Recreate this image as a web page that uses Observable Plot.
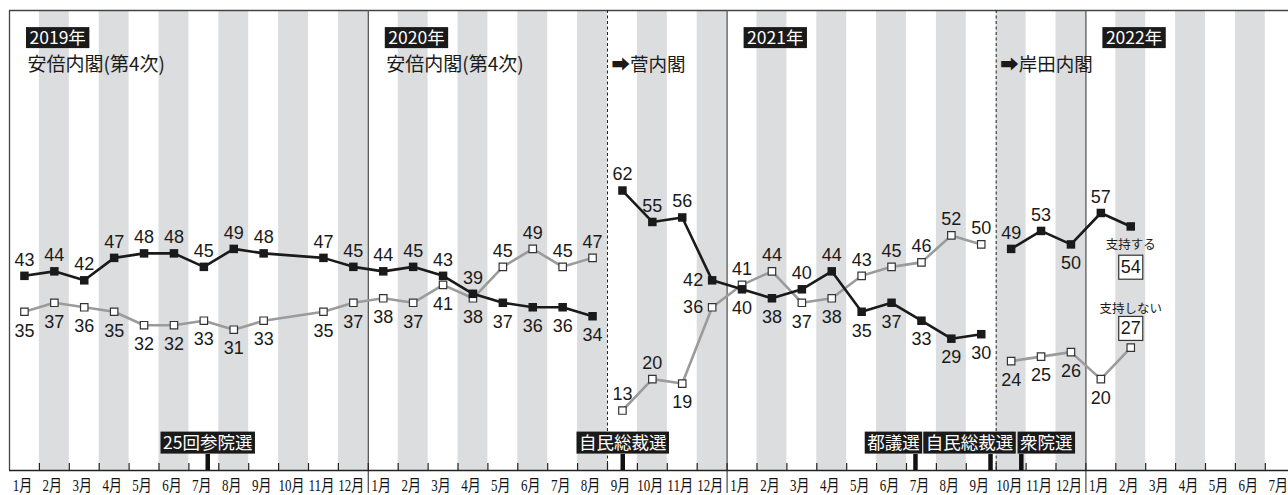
<!DOCTYPE html>
<html>
<head>
<meta charset="utf-8">
<script src="https://cdn.jsdelivr.net/npm/d3@7"></script>
<script src="https://cdn.jsdelivr.net/npm/@observablehq/plot@0.6"></script>
<style>
  html, body { margin: 0; padding: 0; overflow: hidden; background: #fff; }
</style>
</head>
<body>
<div id="chart"></div>
<script>
// ---------------- data ----------------
const surveyMonths = [
  "2019-01","2019-02","2019-03","2019-04","2019-05","2019-06","2019-07","2019-08","2019-09","2019-11","2019-12",
  "2020-01","2020-02","2020-03","2020-04","2020-05","2020-06","2020-07","2020-08",
  "2020-09","2020-10","2020-11","2020-12",
  "2021-01","2021-02","2021-03","2021-04","2021-05","2021-06","2021-07","2021-08","2021-09",
  "2021-10","2021-11","2021-12","2022-01","2022-02"
];
const supportValues = [
  43,44,42,47,48,48,45,49,48,47,45,
  44,45,43,39,37,36,36,34,
  62,55,56,42,
  40,38,40,44,35,37,33,29,30,
  49,53,50,57,54
];
const nonSupportValues = [
  35,37,36,35,32,32,33,31,33,35,37,
  38,37,41,38,45,49,45,47,
  13,20,19,36,
  41,44,37,38,43,45,46,52,50,
  24,25,26,20,27
];
const cabinetOfSurvey = [
  "安倍","安倍","安倍","安倍","安倍","安倍","安倍","安倍","安倍","安倍","安倍",
  "安倍","安倍","安倍","安倍","安倍","安倍","安倍","安倍",
  "菅","菅","菅","菅",
  "菅","菅","菅","菅","菅","菅","菅","菅","菅",
  "岸田","岸田","岸田","岸田","岸田"
];
// label placement (a = above, b = below, l = left, n = none)
const supportLabelSide = [
  "a","a","a","a","a","a","a","a","a","a","a",
  "a","a","a","a","b","b","b","b",
  "a","a","a","l",
  "b","b","a","a","b","b","b","b","b",
  "a","a","b","a","n"
];
const nonSupportLabelSide = [
  "b","b","b","b","b","b","b","b","b","b","b",
  "b","b","b","b","a","a","a","a",
  "a","a","b","l",
  "a","a","b","b","a","a","a","a","a",
  "b","b","b","b","n"
];

const yearLabels = ["2019年","2020年","2021年","2022年"];
const yearStartMonths = [0, 12, 24, 36];
const abeLabels = ["安倍内閣(第4次)","安倍内閣(第4次)"];
const abeLabelMonths = [0, 12];
const changeLabels = ["➡菅内閣","➡岸田内閣"];
const cabinetChangeMonths = [20, 33];

const eventLabels = ["25回参院選","自民総裁選","都議選","自民総裁選","衆院選"];
const eventMonths = [6.63, 20.51, 30.30, 32.81, 33.84];
const eventLabelShiftPx = [0, 0, -22, -21, 25];

const monthCount = 43;
const monthTickLabels = d3.range(monthCount).map(i => `${i % 12 + 1}月`);
const endLabelTexts = ["支持する", "支持しない"];

// ---------------- layout ----------------
const MONTH_PX = 29.9, LEFT = 9;
const yDomain = [-0.36, 102.1];
const numFont = "'Liberation Sans', Arial, Helvetica, sans-serif";
const jpFont = "'Noto Sans CJK JP', 'DejaVu Sans', sans-serif";
const serifFont = "'Liberation Serif', 'Noto Sans CJK JP', serif";

const monthIndex = s => { const [y, m] = s.split("-").map(Number); return (y - 2019) * 12 + (m - 1); };
const rows = surveyMonths.map((m, i) => ({
  t: monthIndex(m) + 0.5,
  s: supportValues[i],
  n: nonSupportValues[i],
  cab: cabinetOfSurvey[i],
  ps: supportLabelSide[i],
  pn: nonSupportLabelSide[i]
}));
const lastRow = rows[rows.length - 1];
const stripeMonths = d3.range(monthCount).filter(i => i % 2 === 1);

function valueLabels(key, sideKey) {
  const base = {x: "t", y: key, text: d => String(d[key]), fontSize: 18, fontFamily: numFont, fill: "#1a1a1a"};
  return [
    Plot.text(rows.filter(d => d[sideKey] === "a"), {...base, dy: -16}),
    Plot.text(rows.filter(d => d[sideKey] === "b"), {...base, dy: 19}),
    Plot.text(rows.filter(d => d[sideKey] === "l"), {...base, dx: -9, textAnchor: "end"})
  ];
}

const chart = Plot.plot({
  width: 1288,
  height: 495,
  marginTop: 10,
  marginBottom: 25,
  marginLeft: LEFT,
  marginRight: 0,
  x: {domain: [0, monthCount], range: [LEFT, LEFT + monthCount * MONTH_PX], axis: null},
  y: {domain: yDomain, axis: null},
  style: {background: "white", overflow: "hidden"},
  marks: [
    // stripes
    Plot.rect(stripeMonths, {x1: d => d, x2: d => d + 1, fill: "#dcdddf"}),
    // frame lines
    Plot.ruleY([yDomain[1]], {stroke: "#444", strokeWidth: 1.3}),
    Plot.ruleX([0], {stroke: "#444", strokeWidth: 1.3}),
    Plot.ruleX(yearStartMonths.slice(1), {stroke: "#555", strokeWidth: 1.3, insetBottom: -23}),
    Plot.ruleX(cabinetChangeMonths, {stroke: "#222", strokeWidth: 1, strokeDasharray: "3,2.5"}),
    // axis
    Plot.ruleX(d3.range(1, monthCount + 1), {stroke: "#222", strokeWidth: 1.2, insetTop: 453}),
    Plot.ruleY([yDomain[0]], {stroke: "#222", strokeWidth: 1.6}),
    Plot.text(monthTickLabels, {x: (d, i) => i + 0.5, text: d => d, frameAnchor: "bottom", lineAnchor: "middle",
      dy: 15, dx: -2, fontSize: 16, fontFamily: serifFont, fill: "#111", ariaDescription: "month-labels"}),
    // events
    Plot.ruleX(eventMonths, {stroke: "#111", strokeWidth: 4.5, insetTop: 444}),
    Plot.text(eventLabels, {x: (d, i) => eventMonths[i] + eventLabelShiftPx[i] / MONTH_PX, text: d => d,
      frameAnchor: "bottom", lineAnchor: "middle", dy: -27, fontSize: 17.5, fontFamily: jpFont, fill: "white",
      ariaDescription: "event-labels"}),
    // year and cabinet labels
    Plot.text(yearLabels, {x: (d, i) => yearStartMonths[i], text: d => d, frameAnchor: "top", lineAnchor: "middle",
      dy: 28, dx: 20, textAnchor: "start", fontSize: 17.5, fontFamily: jpFont, fill: "white", ariaDescription: "year-labels"}),
    Plot.text(abeLabels, {x: (d, i) => abeLabelMonths[i], text: d => d, frameAnchor: "top", lineAnchor: "middle",
      dy: 54, dx: 18, textAnchor: "start", fontSize: 19, fontFamily: jpFont, fill: "#1a1a1a"}),
    Plot.text(changeLabels, {x: (d, i) => cabinetChangeMonths[i], text: d => d, frameAnchor: "top", lineAnchor: "middle",
      dy: 55, dx: 4, textAnchor: "start", fontSize: 18.5, fontFamily: jpFont, fill: "#1a1a1a"}),
    // non-support series
    Plot.line(rows, {x: "t", y: "n", z: "cab", stroke: "#9b9b9b", strokeWidth: 2.6}),
    Plot.dot(rows, {x: "t", y: "n", symbol: "square", r: 4.2, fill: "white", stroke: "#333", strokeWidth: 1.2}),
    // support series
    Plot.line(rows, {x: "t", y: "s", z: "cab", stroke: "#1a1a1a", strokeWidth: 2.6}),
    Plot.dot(rows, {x: "t", y: "s", symbol: "square", r: 4.8, fill: "#1a1a1a"}),
    // value labels
    ...valueLabels("s", "ps"),
    ...valueLabels("n", "pn"),
    // end labels
    Plot.text([endLabelTexts[0]], {x: lastRow.t, y: lastRow.s, text: d => d, dy: 19, fontSize: 12.5, fontFamily: jpFont, fill: "#1a1a1a"}),
    Plot.text([lastRow.s], {x: lastRow.t, y: lastRow.s, text: d => String(d), dy: 41, fontSize: 18, fontFamily: numFont,
      fill: "#1a1a1a", ariaDescription: "end-box"}),
    Plot.text([endLabelTexts[1]], {x: lastRow.t, y: lastRow.n, text: d => d, dy: -39, fontSize: 12.5, fontFamily: jpFont, fill: "#1a1a1a"}),
    Plot.text([lastRow.n], {x: lastRow.t, y: lastRow.n, text: d => String(d), dy: -19, fontSize: 18, fontFamily: numFont,
      fill: "#1a1a1a", ariaDescription: "end-box"})
  ]
});

document.getElementById("chart").appendChild(chart);

function markGroups(desc) {
  const out = [];
  chart.querySelectorAll("g").forEach(g => {
    if (g.getAttribute("aria-description") === desc) out.push(g);
  });
  return out;
}

// condensed month labels
markGroups("month-labels").forEach(g => g.querySelectorAll("text").forEach(t => {
  t.setAttribute("textLength", t.textContent.length > 2 ? 26 : 19.5);
  t.setAttribute("lengthAdjust", "spacingAndGlyphs");
}));

// background boxes behind label texts
function boxify(desc, {fill, stroke = "none", strokeWidth = 0, padX = 4, height = 22, minWidth = 0, shiftY = 0}) {
  const svgBox = chart.getBoundingClientRect();
  markGroups(desc).forEach(g => {
    const layer = document.createElementNS("http://www.w3.org/2000/svg", "g");
    g.querySelectorAll("text").forEach(t => {
      const b = t.getBoundingClientRect();
      const w = Math.max(b.width + 2 * padX, minWidth);
      const cx = b.left + b.width / 2 - svgBox.left;
      const cy = b.top + b.height / 2 - svgBox.top + shiftY;
      const r = document.createElementNS("http://www.w3.org/2000/svg", "rect");
      r.setAttribute("x", cx - w / 2);
      r.setAttribute("y", cy - height / 2);
      r.setAttribute("width", w);
      r.setAttribute("height", height);
      r.setAttribute("fill", fill);
      r.setAttribute("stroke", stroke);
      r.setAttribute("stroke-width", strokeWidth);
      layer.appendChild(r);
    });
    g.parentNode.insertBefore(layer, g);
  });
}
boxify("event-labels", {fill: "#1a1a1a", padX: 2.5, height: 22, shiftY: 1});
boxify("year-labels", {fill: "#1a1a1a", padX: 3.5, height: 21, shiftY: 1});
boxify("end-box", {fill: "white", stroke: "#333", strokeWidth: 1.2, padX: 2, height: 24, minWidth: 24});
</script>
</body>
</html>
